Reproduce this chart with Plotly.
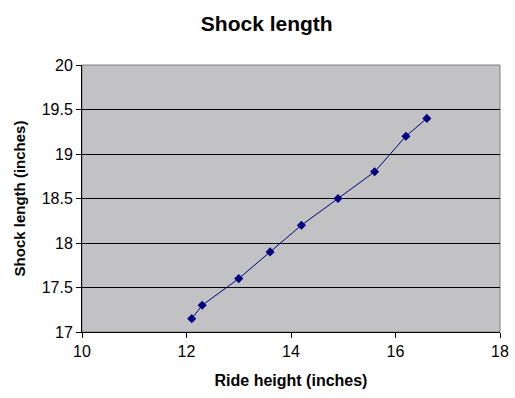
import plotly.graph_objects as go

ride_height = [12.1, 12.3, 13.0, 13.6, 14.2, 14.9, 15.6, 16.2, 16.6]
shock_length = [17.15, 17.3, 17.6, 17.9, 18.2, 18.5, 18.8, 19.2, 19.4]

fig = go.Figure()
fig.add_trace(go.Scatter(
    x=ride_height, y=shock_length, mode="lines+markers",
    line=dict(color="#000080", width=1),
    marker=dict(symbol="diamond", size=7, color="#000080"),
    showlegend=False,
))

fig.update_layout(
    width=515, height=398,
    margin=dict(l=82, r=15, t=65, b=66),
    paper_bgcolor="white", plot_bgcolor="#C2C2C4",
    font=dict(family="Arial, Liberation Sans, sans-serif", color="black", size=13),
    title=dict(text="<b>Shock length</b>", x=0.518, xanchor="center",
               y=0.940, yanchor="middle", font=dict(size=21)),
    xaxis=dict(range=[10, 18], dtick=2, showgrid=False, zeroline=False,
               showline=True, linecolor="black", linewidth=1,
               ticks="outside", ticklen=5, tickcolor="black", automargin=False,
               title=dict(text="<b>Ride height (inches)</b>", font=dict(size=16), standoff=15),
               tickfont=dict(size=16)),
    yaxis=dict(range=[17, 20], dtick=0.5, showgrid=True, gridcolor="black", gridwidth=1,
               zeroline=False, showline=True, linecolor="black", linewidth=1,
               ticks="outside", ticklen=5, tickcolor="black", automargin=False,
               title=dict(text="<b>Shock length (inches)</b>", font=dict(size=15), standoff=12),
               tickfont=dict(size=16)),
    shapes=[dict(type="rect", xref="paper", yref="paper", x0=0, x1=1, y0=0, y1=1,
                 line=dict(color="#808080", width=1), layer="below")],
)

fig.write_html(
    "out.html",
    config={"displayModeBar": False},
    post_script="document.body.style.margin='0';document.body.style.overflow='hidden';",
)
